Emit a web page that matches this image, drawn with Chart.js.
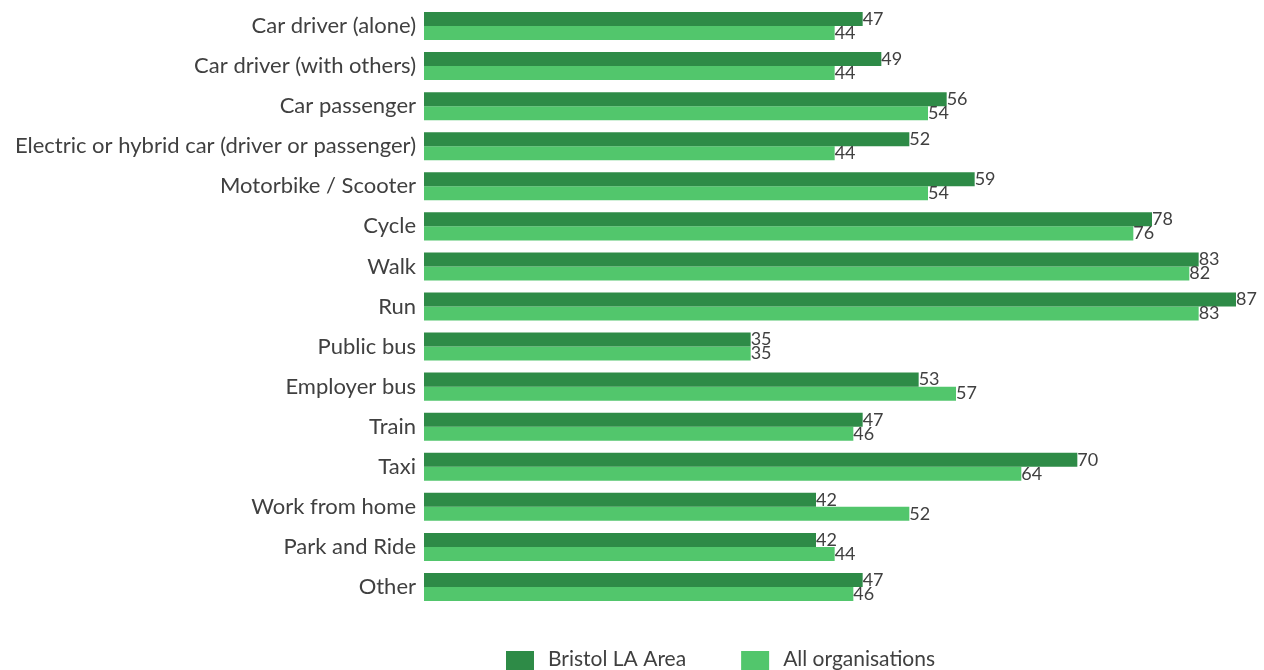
<!DOCTYPE html>
<html>
<head>
<meta charset="utf-8">
<script src="https://cdn.jsdelivr.net/npm/chart.js@4"></script>
<style>
  html, body { margin: 0; padding: 0; background: #fff; }
  #wrap { width: 1264px; height: 670px; }
</style>
</head>
<body>
<div id="wrap"><canvas id="chart"></canvas></div>
<script>
// categories and values
var modes = [
  'Car driver (alone)',
  'Car driver (with others)',
  'Car passenger',
  'Electric or hybrid car (driver or passenger)',
  'Motorbike / Scooter',
  'Cycle',
  'Walk',
  'Run',
  'Public bus',
  'Employer bus',
  'Train',
  'Taxi',
  'Work from home',
  'Park and Ride',
  'Other'
];
var bristol = [47, 49, 56, 52, 59, 78, 83, 87, 35, 53, 47, 70, 42, 42, 47];
var allOrgs = [44, 44, 54, 44, 54, 76, 82, 83, 35, 57, 46, 64, 52, 44, 46];

var fontFamily = 'Lato, "Open Sans", sans-serif';
var textColor = '#404040';

// draws the value at the end of each bar
var valueLabels = {
  id: 'valueLabels',
  afterDatasetsDraw: function(chart) {
    var ctx = chart.ctx;
    ctx.save();
    ctx.font = '18px ' + fontFamily;
    ctx.fillStyle = textColor;
    ctx.textAlign = 'left';
    ctx.textBaseline = 'middle';
    chart.data.datasets.forEach(function(ds, i) {
      var meta = chart.getDatasetMeta(i);
      meta.data.forEach(function(bar, j) {
        ctx.fillText(ds.data[j], bar.x, bar.y);
      });
    });
    ctx.restore();
  }
};

// legend under the plot, drawn by hand so spacing matches
var bottomLegend = {
  id: 'bottomLegend',
  afterDraw: function(chart) {
    var ctx = chart.ctx;
    ctx.save();
    ctx.font = '21px ' + fontFamily;
    ctx.textBaseline = 'middle';
    ctx.textAlign = 'left';
    var x = 506;
    var y = 659;
    chart.data.datasets.forEach(function(ds) {
      ctx.fillStyle = ds.backgroundColor;
      ctx.fillRect(x, 651, 28, 28);
      x += 28 + 14;
      ctx.fillStyle = textColor;
      ctx.fillText(ds.label, x, y);
      x += ctx.measureText(ds.label).width + 55;
    });
    ctx.restore();
  }
};

var ctx = document.getElementById('chart').getContext('2d');
var chart = new Chart(ctx, {
  type: 'bar',
  data: {
    labels: modes,
    datasets: [{
      label: 'Bristol LA Area',
      data: bristol,
      backgroundColor: '#2E8B47',
      categoryPercentage: 0.7,
      barPercentage: 1.0
    }, {
      label: 'All organisations',
      data: allOrgs,
      backgroundColor: '#52C66C',
      categoryPercentage: 0.7,
      barPercentage: 1.0
    }]
  },
  options: {
    indexAxis: 'y',
    responsive: true,
    maintainAspectRatio: false,
    animation: false,
    layout: { padding: { top: 6, right: 0, left: 0, bottom: 63 } },
    scales: {
      x: {
        min: 0,
        max: 90,
        display: false
      },
      y: {
        grid: { display: false, drawTicks: false },
        border: { display: false },
        ticks: {
          color: textColor,
          font: { size: 22, family: fontFamily },
          padding: 8
        },
        afterFit: function(scale) {
          scale.width = 424;
          scale.paddingTop = 0;
          scale.paddingBottom = 0;
        }
      }
    },
    plugins: {
      legend: { display: false },
      tooltip: { enabled: false }
    }
  },
  plugins: [valueLabels, bottomLegend]
});
</script>
</body>
</html>
